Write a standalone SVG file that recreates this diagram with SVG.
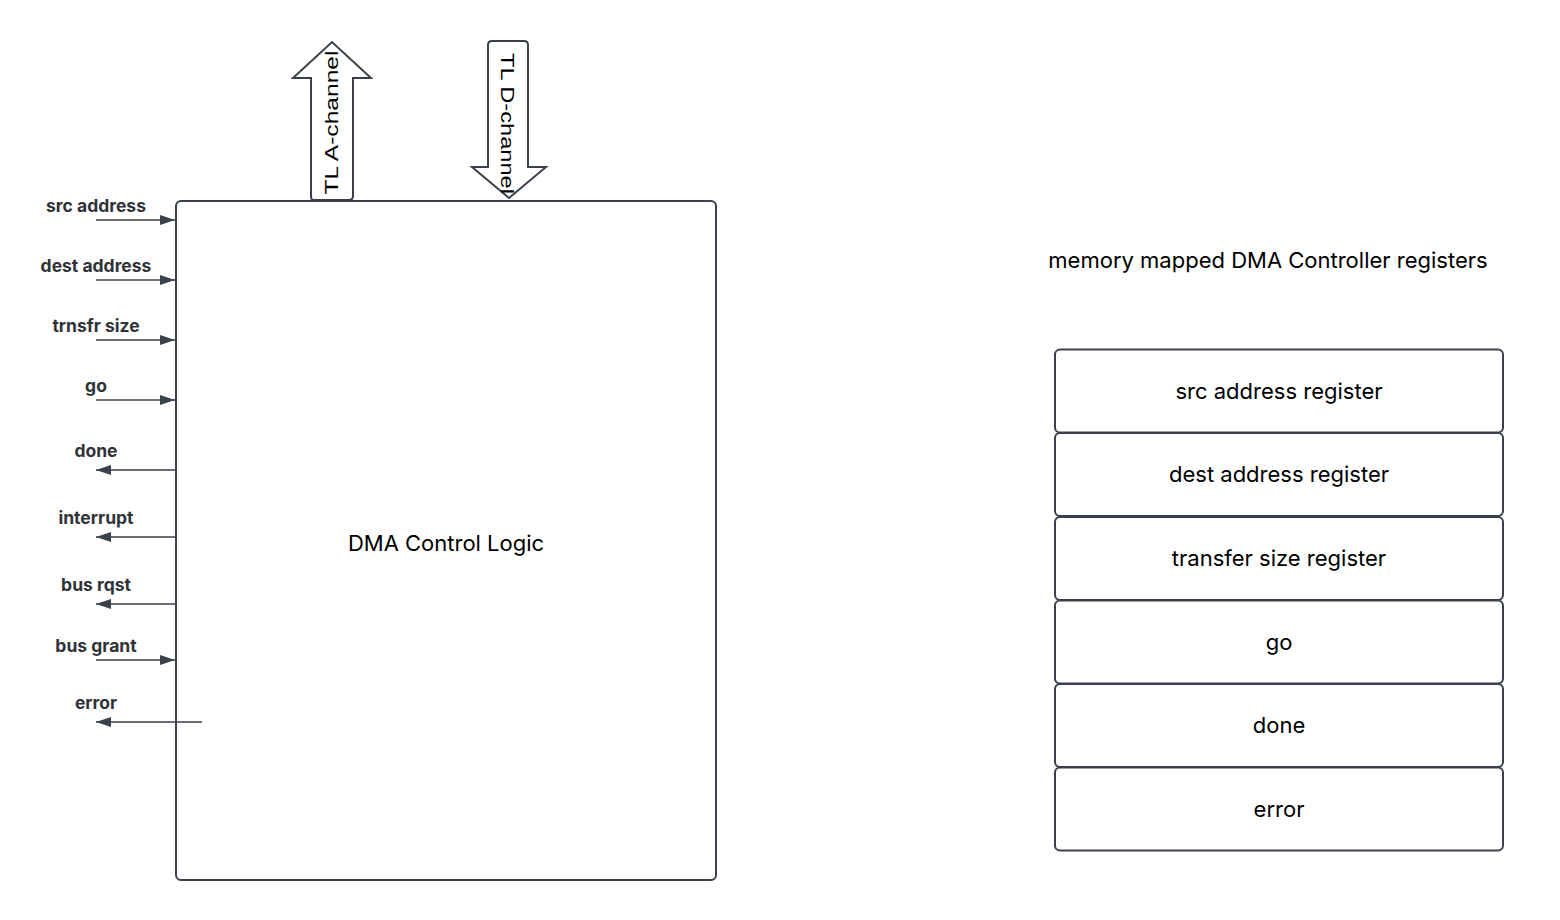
<svg xmlns="http://www.w3.org/2000/svg" width="1560" height="920" viewBox="0 0 1560 920">
<style>
.box{fill:#ffffff;stroke:#3a414a;stroke-width:2}
.wire{stroke:#3a414a;stroke-width:1.5;fill:none}
.lbl{font-family:Inter,"Liberation Sans",sans-serif;font-weight:700;font-size:17.5px;fill:#2f3338;text-anchor:middle}
.txt{font-family:Inter,"Liberation Sans",sans-serif;font-size:22px;fill:#000000;text-anchor:middle}
.bus{font-family:"Liberation Sans",Arial,sans-serif;font-size:19px;fill:#000000;text-anchor:middle}
</style>
<defs>
<marker id="ah" viewBox="0 0 15 10" refX="15" refY="5" markerWidth="15" markerHeight="10" markerUnits="userSpaceOnUse" orient="auto">
<path d="M0,0 L15,5 L0,10 Z" fill="#3a414a"/>
</marker>
</defs>
<rect width="1560" height="920" fill="#ffffff"/>

<g id="dma-control-logic">
<rect class="box" x="176" y="201" width="540" height="679" rx="5"/>
<text class="txt" x="446" y="551">DMA Control Logic</text>
</g>

<g id="tl-a-channel">
<path class="box" d="M313,200 Q311,200 311,196 L311,78 L293,78 L332,42 L371,78 L353,78 L353,196 Q353,200 349,200 Z"/>
<text class="bus" transform="translate(338,122.5) rotate(-90)" textLength="144" lengthAdjust="spacingAndGlyphs">TL A-channel</text>
</g>

<g id="tl-d-channel">
<path class="box" d="M492,41 Q488,41 488,45 L488,167 L472,167 L509,198 L546,167 L528,167 L528,45 Q528,41 524,41 Z"/>
<text class="bus" transform="translate(501,123.5) rotate(90)" textLength="141" lengthAdjust="spacingAndGlyphs">TL D-channel</text>
</g>

<g id="signal-labels">
<text class="lbl" x="96" y="212">src address</text>
<text class="lbl" x="96" y="272">dest address</text>
<text class="lbl" x="96" y="332">trnsfr size</text>
<text class="lbl" x="96" y="392">go</text>
<text class="lbl" x="96" y="457">done</text>
<text class="lbl" x="96" y="524">interrupt</text>
<text class="lbl" x="96" y="591">bus rqst</text>
<text class="lbl" x="96" y="652">bus grant</text>
<text class="lbl" x="96" y="709">error</text>
</g>

<g id="connectors">
<line class="wire" x1="96" y1="220" x2="175" y2="220" marker-end="url(#ah)"/>
<line class="wire" x1="96" y1="280" x2="175" y2="280" marker-end="url(#ah)"/>
<line class="wire" x1="96" y1="340" x2="175" y2="340" marker-end="url(#ah)"/>
<line class="wire" x1="96" y1="400" x2="175" y2="400" marker-end="url(#ah)"/>
<line class="wire" x1="176" y1="470" x2="96" y2="470" marker-end="url(#ah)"/>
<line class="wire" x1="176" y1="537" x2="96" y2="537" marker-end="url(#ah)"/>
<line class="wire" x1="176" y1="604" x2="96" y2="604" marker-end="url(#ah)"/>
<line class="wire" x1="96" y1="660" x2="175" y2="660" marker-end="url(#ah)"/>
<line class="wire" x1="202" y1="722" x2="96" y2="722" marker-end="url(#ah)"/>
</g>

<g id="registers-title">
<text class="txt" x="1268" y="268">memory mapped DMA Controller registers</text>
</g>

<g id="reg-src">
<rect class="box" x="1055" y="349.5" width="448" height="83" rx="5"/>
<text class="txt" x="1279" y="399">src address register</text>
</g>
<g id="reg-dest">
<rect class="box" x="1055" y="433" width="448" height="83" rx="5"/>
<text class="txt" x="1279" y="482">dest address register</text>
</g>
<g id="reg-size">
<rect class="box" x="1055" y="517" width="448" height="83" rx="5"/>
<text class="txt" x="1279" y="566">transfer size register</text>
</g>
<g id="reg-go">
<rect class="box" x="1055" y="600.5" width="448" height="83" rx="5"/>
<text class="txt" x="1279" y="650">go</text>
</g>
<g id="reg-done">
<rect class="box" x="1055" y="684" width="448" height="83" rx="5"/>
<text class="txt" x="1279" y="733">done</text>
</g>
<g id="reg-error">
<rect class="box" x="1055" y="767.5" width="448" height="83" rx="5"/>
<text class="txt" x="1279" y="817">error</text>
</g>
</svg>
